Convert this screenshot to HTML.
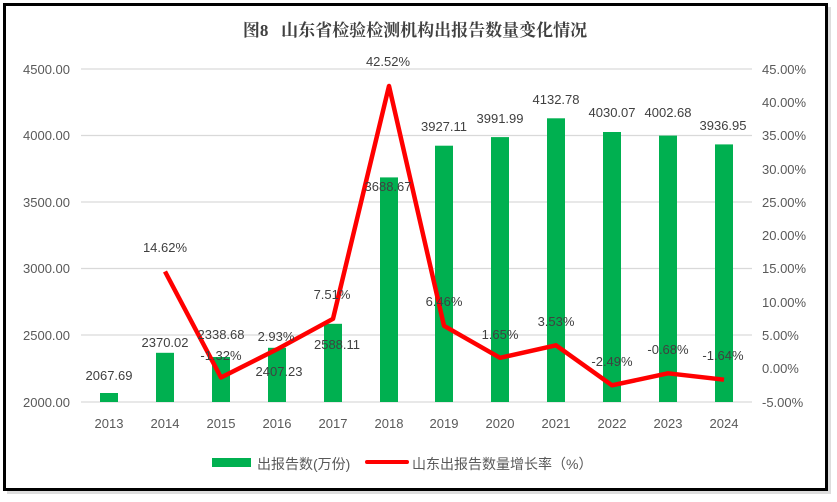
<!DOCTYPE html>
<html><head><meta charset="utf-8"><style>
body{margin:0;background:#fff;}
svg{display:block;font-family:"Liberation Sans","Noto Sans CJK SC",sans-serif;}
</style></head><body>
<svg width="837" height="502" viewBox="0 0 837 502">
<rect x="0" y="0" width="837" height="502" fill="#fff"/>
<rect x="7" y="7" width="824" height="487" fill="#bbb" opacity="0.5"/>
<rect x="4.5" y="4.5" width="822" height="485" fill="#fff" stroke="#000" stroke-width="3"/>
<text x="415" y="36" text-anchor="middle" font-family="'Liberation Serif','Noto Serif CJK SC',serif" font-weight="bold" font-size="17" fill="#404040">图8&#160;&#160;&#160;山东省检验检测机构出报告数量变化情况</text>
<g stroke="#d9d9d9" stroke-width="1.3">
<line x1="81" x2="752" y1="69" y2="69"/><line x1="81" x2="752" y1="135.5" y2="135.5"/>
<line x1="81" x2="752" y1="202" y2="202"/><line x1="81" x2="752" y1="268.5" y2="268.5"/>
<line x1="81" x2="752" y1="335" y2="335"/><line x1="81" x2="752" y1="402" y2="402"/>
</g>
<g font-size="13" fill="#595959" text-anchor="end">
<text x="70" y="74">4500.00</text><text x="70" y="140">4000.00</text><text x="70" y="207">3500.00</text>
<text x="70" y="273">3000.00</text><text x="70" y="340">2500.00</text><text x="70" y="407">2000.00</text>
</g>
<g font-size="13" fill="#595959">
<text x="762" y="74">45.00%</text><text x="762" y="107">40.00%</text><text x="762" y="140">35.00%</text>
<text x="762" y="174">30.00%</text><text x="762" y="207">25.00%</text><text x="762" y="240">20.00%</text>
<text x="762" y="273">15.00%</text><text x="762" y="307">10.00%</text><text x="762" y="340">5.00%</text>
<text x="762" y="373">0.00%</text><text x="762" y="407">-5.00%</text>
</g>
<g fill="#00b050">
<rect x="100" y="393" width="18" height="9"/>
<rect x="156" y="352.8" width="18" height="49.2"/>
<rect x="212" y="357" width="18" height="45"/>
<rect x="268" y="347.8" width="18" height="54.2"/>
<rect x="324" y="323.8" width="18" height="78.2"/>
<rect x="380" y="177.4" width="18" height="224.6"/>
<rect x="435" y="145.7" width="18" height="256.3"/>
<rect x="491" y="137.1" width="18" height="264.9"/>
<rect x="547" y="118.3" width="18" height="283.7"/>
<rect x="603" y="132" width="18" height="270"/>
<rect x="659" y="135.6" width="18" height="266.4"/>
<rect x="715" y="144.4" width="18" height="257.6"/>
</g>
<polyline fill="none" stroke="#ff0000" stroke-width="4.5" stroke-linejoin="round" points="165,271.5 221,377.5 277,349.3 333,318.8 389,86 444,325.8 500,357.8 556,345.3 612,385.3 668,373.3 724,379.7"/>
<g font-size="13" fill="#404040" text-anchor="middle">
<text x="109" y="380">2067.69</text><text x="165" y="347">2370.02</text><text x="221" y="339">2338.68</text>
<text x="279" y="376">2407.23</text><text x="337" y="349">2588.11</text><text x="388" y="191">3688.67</text>
<text x="444" y="131">3927.11</text><text x="500" y="123">3991.99</text><text x="556" y="104">4132.78</text>
<text x="612" y="117">4030.07</text><text x="668" y="117">4002.68</text><text x="723" y="130">3936.95</text>
<text x="165" y="252">14.62%</text><text x="221" y="360">-1.32%</text><text x="276" y="341">2.93%</text>
<text x="332" y="299">7.51%</text><text x="388" y="66">42.52%</text><text x="444" y="306">6.46%</text>
<text x="500" y="339">1.65%</text><text x="556" y="326">3.53%</text><text x="612" y="366">-2.49%</text>
<text x="668" y="354">-0.68%</text><text x="723" y="360">-1.64%</text>
</g>
<g font-size="13" fill="#595959" text-anchor="middle">
<text x="109" y="428">2013</text><text x="165" y="428">2014</text><text x="221" y="428">2015</text>
<text x="277" y="428">2016</text><text x="333" y="428">2017</text><text x="389" y="428">2018</text>
<text x="444" y="428">2019</text><text x="500" y="428">2020</text><text x="556" y="428">2021</text>
<text x="612" y="428">2022</text><text x="668" y="428">2023</text><text x="724" y="428">2024</text>
</g>
<rect x="212" y="458" width="39" height="9" fill="#00b050"/>
<text x="257" y="469" font-size="14" fill="#595959">出报告数(万份)</text>
<line x1="367" x2="407" y1="462" y2="462" stroke="#ff0000" stroke-width="4" stroke-linecap="round"/>
<text x="412" y="469" font-size="14" fill="#595959">山东出报告数量增长率（%）</text>
</svg>
</body></html>
